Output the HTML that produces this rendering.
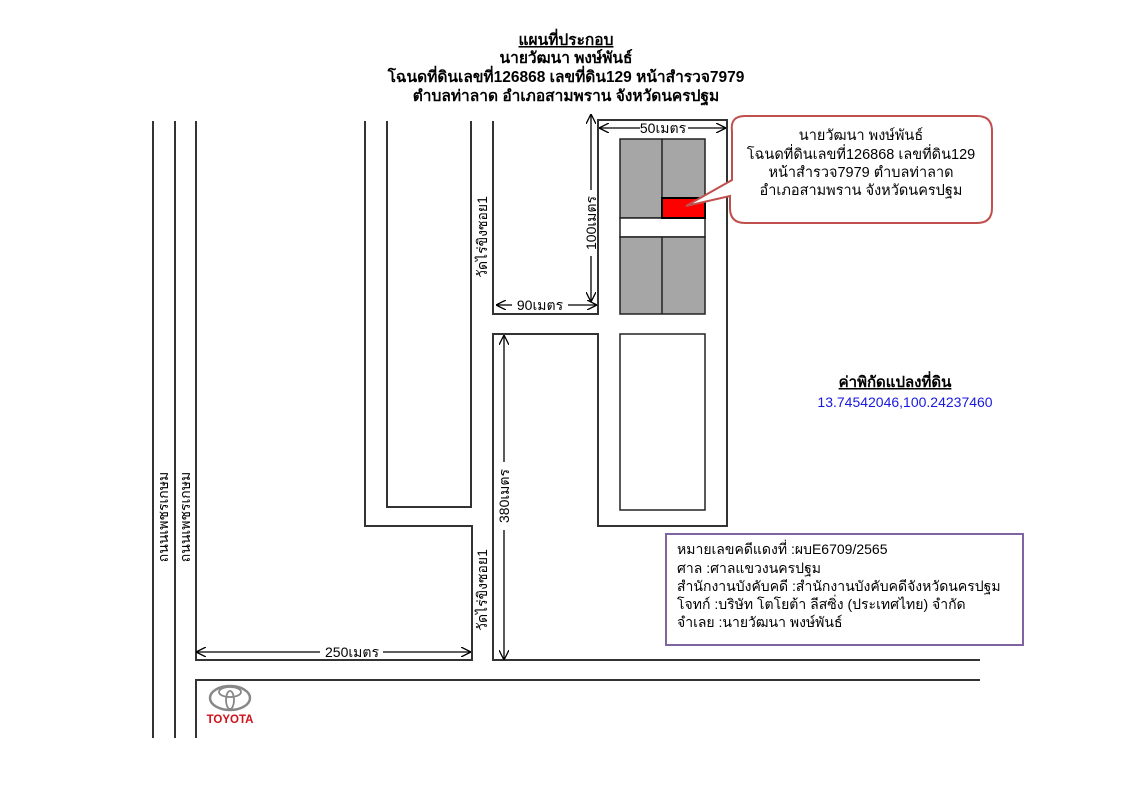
<!DOCTYPE html>
<html><head><meta charset="utf-8"><style>
html,body{margin:0;padding:0;background:#fff;}
svg{display:block;font-family:"Liberation Sans","Noto Sans CJK SC","WenQuanYi Zen Hei",sans-serif;}
</style></head><body>
<svg width="1131" height="800" viewBox="0 0 1131 800" xmlns="http://www.w3.org/2000/svg">
<defs>
<marker id="a" viewBox="0 0 10 10" refX="10" refY="5" markerWidth="10" markerHeight="10" markerUnits="userSpaceOnUse" orient="auto-start-reverse">
<path d="M0,0 L10,5 L0,10" fill="none" stroke="#000" stroke-width="1.3"/>
</marker>
</defs>
<g font-weight="bold" font-size="15.5" text-anchor="middle" fill="#000">
<text x="566" y="45" text-decoration="underline">แผนที่ประกอบ</text>
<text x="566" y="63">นายวัฒนา พงษ์พันธ์</text>
<text x="566" y="82">โฉนดที่ดินเลขที่126868 เลขที่ดิน129 หน้าสำรวจ7979</text>
<text x="566" y="101">ตำบลท่าลาด อำเภอสามพราน จังหวัดนครปฐม</text>
</g>
<g stroke="#333" stroke-width="2" fill="none">
<line x1="153" y1="121" x2="153" y2="738"/>
<line x1="175" y1="121" x2="175" y2="738"/>
<polyline points="196,121 196,660 472,660 472,526 365,526 365,121"/>
<polyline points="387,121 387,507 471,507 471,121"/>
<polyline points="493,121 493,314 598,314 598,120 727,120 727,526 598,526 598,334 493,334 493,660 980,660"/>
<polyline points="196,738 196,680 980,680"/>
</g>
<g stroke="#222" stroke-width="1.5">
<rect x="620" y="139" width="85" height="79" fill="#a6a6a6"/>
<rect x="620" y="218" width="85" height="19" fill="#fff"/>
<rect x="620" y="237" width="85" height="77" fill="#a6a6a6"/>
<line x1="662" y1="139" x2="662" y2="218"/>
<line x1="662" y1="237" x2="662" y2="314"/>
<rect x="620" y="334" width="85" height="176" fill="#fff"/>
</g>
<rect x="662" y="198" width="43" height="20" fill="#ff0000" stroke="#000" stroke-width="2"/>
<path d="M745,116 H977 Q992,116 992,131 V208 Q992,223 977,223 H745 Q730,223 730,208 V196 L686,206 L732,180 V131 Q730,116 745,116 Z" fill="#fff" stroke="#c0504d" stroke-width="2"/>
<g font-size="14.5" text-anchor="middle" fill="#000">
<text x="861" y="140">นายวัฒนา พงษ์พันธ์</text>
<text x="861" y="159">โฉนดที่ดินเลขที่126868 เลขที่ดิน129</text>
<text x="861" y="177">หน้าสำรวจ7979 ตำบลท่าลาด</text>
<text x="861" y="195">อำเภอสามพราน จังหวัดนครปฐม</text>
</g>
<g stroke="#000" stroke-width="1.3" fill="none">
<line x1="599" y1="128" x2="640" y2="128" marker-start="url(#a)"/>
<line x1="688" y1="128" x2="726" y2="128" marker-end="url(#a)"/>
<line x1="591" y1="114" x2="591" y2="190" marker-start="url(#a)"/>
<line x1="591" y1="256" x2="591" y2="302" marker-end="url(#a)"/>
<line x1="496" y1="305" x2="512" y2="305" marker-start="url(#a)"/>
<line x1="568" y1="305" x2="597" y2="305" marker-end="url(#a)"/>
<line x1="504" y1="335" x2="504" y2="462" marker-start="url(#a)"/>
<line x1="504" y1="530" x2="504" y2="660" marker-end="url(#a)"/>
<line x1="196" y1="652" x2="320" y2="652" marker-start="url(#a)"/>
<line x1="383" y1="652" x2="471" y2="652" marker-end="url(#a)"/>
</g>
<g font-size="14" fill="#000">
<text x="663" y="133" text-anchor="middle">50เมตร</text>
<text x="540" y="310" text-anchor="middle">90เมตร</text>
<text x="352" y="657" text-anchor="middle">250เมตร</text>
<text transform="translate(596,223) rotate(-90)" text-anchor="middle">100เมตร</text>
<text transform="translate(509,496) rotate(-90)" text-anchor="middle">380เมตร</text>
<text transform="translate(487,237) rotate(-90)" text-anchor="middle">วัดไร่ขิงซอย1</text>
<text transform="translate(487,590) rotate(-90)" text-anchor="middle">วัดไร่ขิงซอย1</text>
<text transform="translate(168,517) rotate(-90)" text-anchor="middle">ถนนเพชรเกษม</text>
<text transform="translate(190,517) rotate(-90)" text-anchor="middle">ถนนเพชรเกษม</text>
</g>
<text x="895" y="387" font-size="15" font-weight="bold" text-anchor="middle" text-decoration="underline">ค่าพิกัดแปลงที่ดิน</text>
<text x="905" y="407" font-size="14" fill="#1a1adf" text-anchor="middle">13.74542046,100.24237460</text>
<rect x="666" y="534" width="357" height="111" fill="#fff" stroke="#8064a2" stroke-width="2"/>
<g font-size="14" fill="#000">
<text x="677" y="554">หมายเลขคดีแดงที่ :ผบE6709/2565</text>
<text x="677" y="573">ศาล :ศาลแขวงนครปฐม</text>
<text x="677" y="591">สำนักงานบังคับคดี :สำนักงานบังคับคดีจังหวัดนครปฐม</text>
<text x="677" y="609">โจทก์ :บริษัท โตโยต้า ลีสซิ่ง (ประเทศไทย) จำกัด</text>
<text x="677" y="627">จำเลย :นายวัฒนา พงษ์พันธ์</text>
</g>
<g fill="none" stroke="#888" stroke-width="2.5">
<ellipse cx="230" cy="698" rx="20" ry="12"/>
<ellipse cx="230" cy="692" rx="11" ry="5" stroke-width="1.8"/>
<ellipse cx="230" cy="700" rx="4" ry="9" stroke-width="1.8"/>
</g>
<text x="230" y="723" font-size="11.5" font-weight="bold" fill="#d0101a" text-anchor="middle">TOYOTA</text>
</svg>
</body></html>
